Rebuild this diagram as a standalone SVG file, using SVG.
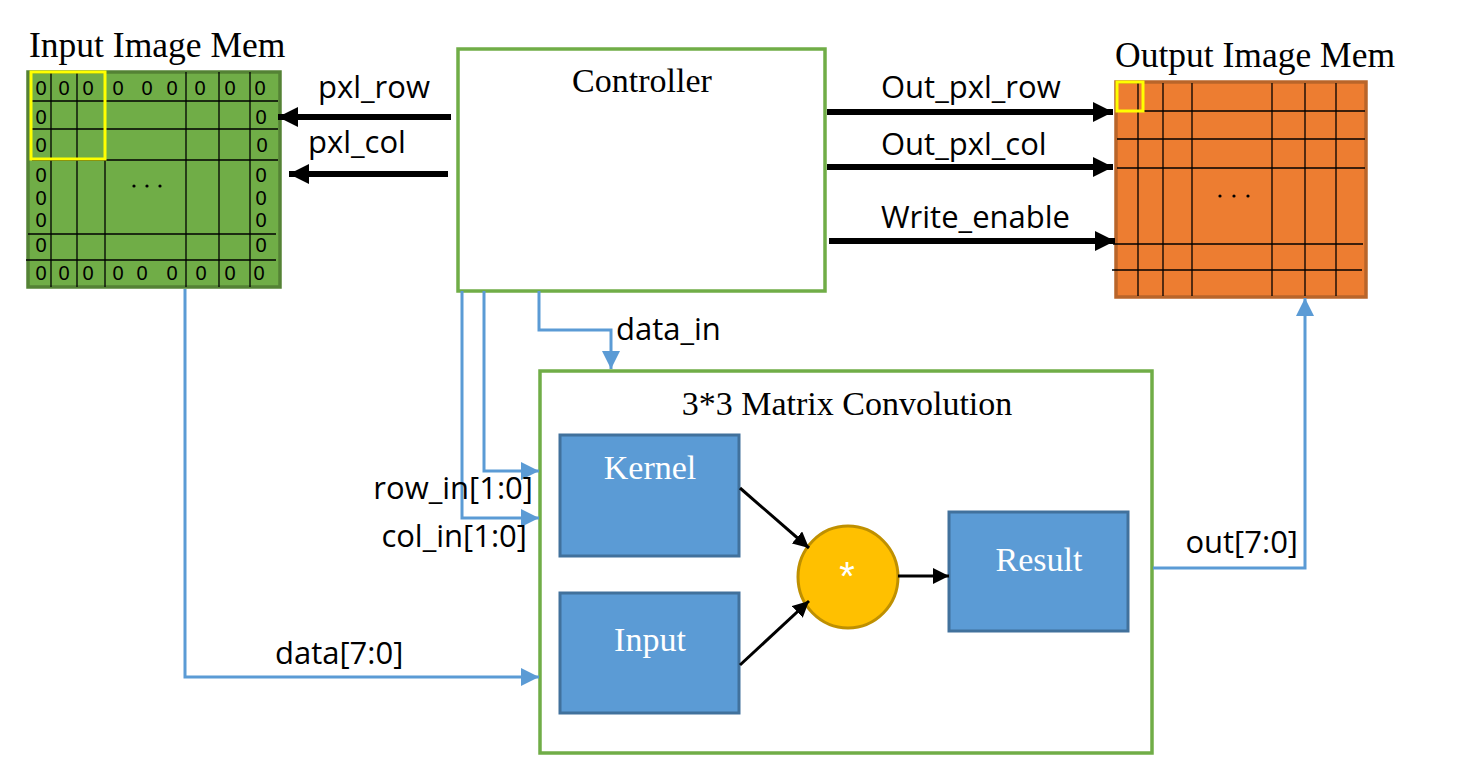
<svg xmlns="http://www.w3.org/2000/svg" width="1462" height="777" viewBox="0 0 1462 777">
<defs>
<style>
.serif{font-family:"Liberation Serif","Times New Roman",serif;}
.sans{font-family:"Open Sans","Liberation Sans",sans-serif;}
.title{font-size:34px;fill:#000;}
.mtitle{font-size:35.5px;fill:#000;}
.lbl{font-size:31px;fill:#000;}
.zero{font-family:"Liberation Sans",Arial,sans-serif;font-size:20px;fill:#000;text-anchor:middle;}
.grid{stroke:#000;stroke-width:1.3;fill:none;}
.blk{stroke:#000;stroke-width:6;fill:none;}
.thin{stroke:#000;stroke-width:3;fill:none;}
.blue{stroke:#5B9BD5;stroke-width:3;fill:none;}
.box{fill:#5B9BD5;stroke:#41719C;stroke-width:3;}
.wt{font-size:34px;fill:#fff;text-anchor:middle;}
</style>
<marker id="ah" viewBox="0 0 10 10" refX="10" refY="5" markerWidth="20" markerHeight="20" markerUnits="userSpaceOnUse" orient="auto"><path d="M0,0 L10,5 L0,10 z" fill="#000"/></marker>
<marker id="ahs" viewBox="0 0 10 10" refX="10" refY="5" markerWidth="16" markerHeight="16" markerUnits="userSpaceOnUse" orient="auto"><path d="M0,0 L10,5 L0,10 z" fill="#000"/></marker>
<marker id="ahb" viewBox="0 0 10 10" refX="10" refY="5" markerWidth="18" markerHeight="18" markerUnits="userSpaceOnUse" orient="auto"><path d="M0,0 L10,5 L0,10 z" fill="#5B9BD5"/></marker>
</defs>
<rect width="1462" height="777" fill="#fff"/>

<g id="input-mem">
<text class="serif mtitle" x="29" y="57">Input Image Mem</text>
<rect x="28" y="72" width="252" height="215" fill="#70AD47" stroke="#548235" stroke-width="3.5"/>
<g class="grid">
<line x1="51" y1="72" x2="51" y2="287"/>
<line x1="77" y1="72" x2="77" y2="287"/>
<line x1="105" y1="72" x2="105" y2="287"/>
<line x1="186" y1="72" x2="186" y2="287"/>
<line x1="219" y1="72" x2="219" y2="287"/>
<line x1="250" y1="72" x2="250" y2="287"/>
<line x1="32" y1="101" x2="278" y2="101"/>
<line x1="32" y1="129" x2="278" y2="129"/>
<line x1="32" y1="160" x2="278" y2="160"/>
<line x1="28" y1="234" x2="276" y2="234"/>
<line x1="26" y1="260" x2="276" y2="260"/>
</g>
<rect x="31" y="72" width="74" height="87" fill="none" stroke="#FFFF00" stroke-width="3"/>
<g class="zero">
<text x="41" y="95">0</text><text x="64" y="95">0</text><text x="88" y="95">0</text><text x="118" y="95">0</text><text x="147" y="95">0</text><text x="172" y="95">0</text><text x="200" y="95">0</text><text x="230" y="95">0</text><text x="260" y="95">0</text>
<text x="41" y="124">0</text><text x="41" y="152">0</text>
<text x="41" y="182">0</text><text x="41" y="204.5">0</text><text x="41" y="227">0</text>
<text x="41" y="252">0</text>
<text x="261" y="124">0</text><text x="262" y="152">0</text>
<text x="261" y="182">0</text><text x="261" y="204.5">0</text><text x="261" y="227">0</text>
<text x="261" y="252">0</text>
<text x="41" y="280">0</text><text x="64" y="280">0</text><text x="88" y="280">0</text><text x="118" y="280">0</text><text x="142" y="280">0</text><text x="172" y="280">0</text><text x="201" y="280">0</text><text x="230" y="280">0</text><text x="259" y="280">0</text>
</g>
<g fill="#000"><circle cx="134" cy="186" r="1.6"/><circle cx="147" cy="186" r="1.6"/><circle cx="160" cy="186" r="1.6"/></g>
</g>

<g id="output-mem">
<text class="serif mtitle" x="1115" y="67">Output Image Mem</text>
<rect x="1116" y="82" width="250" height="215" fill="#ED7D31" stroke="#B9652A" stroke-width="3.5"/>
<g class="grid">
<line x1="1138" y1="83" x2="1138" y2="296"/>
<line x1="1163" y1="83" x2="1163" y2="296"/>
<line x1="1192" y1="83" x2="1192" y2="296"/>
<line x1="1272" y1="83" x2="1272" y2="296"/>
<line x1="1305" y1="83" x2="1305" y2="296"/>
<line x1="1336" y1="83" x2="1336" y2="296"/>
<line x1="1142" y1="111" x2="1365" y2="111"/>
<line x1="1117" y1="139" x2="1365" y2="139"/>
<line x1="1117" y1="168" x2="1365" y2="168"/>
<line x1="1113" y1="244" x2="1363" y2="244"/>
<line x1="1112" y1="270" x2="1362" y2="270"/>
</g>
<rect x="1117" y="82" width="26" height="29" fill="none" stroke="#FFFF00" stroke-width="3"/>
<g fill="#000"><circle cx="1220" cy="196" r="1.6"/><circle cx="1234" cy="196" r="1.6"/><circle cx="1248" cy="196" r="1.6"/></g>
</g>

<g id="controller">
<rect x="458" y="49" width="367" height="242" fill="#fff" stroke="#70AD47" stroke-width="3.5"/>
<text class="serif title" x="642" y="92" text-anchor="middle">Controller</text>
</g>

<g id="conv">
<rect x="540" y="371" width="612" height="382" fill="#fff" stroke="#70AD47" stroke-width="3.5"/>
<text class="serif title" x="847" y="415" text-anchor="middle">3*3 Matrix Convolution</text>
</g>
<g id="kernel">
<rect class="box" x="560" y="435" width="179" height="121"/>
<text class="serif wt" x="650" y="479">Kernel</text>
</g>
<g id="input">
<rect class="box" x="560" y="593" width="179" height="120"/>
<text class="serif wt" x="650" y="651">Input</text>
</g>
<g id="mult">
<ellipse cx="848" cy="577" rx="50" ry="51" fill="#FFC000" stroke="#BF9000" stroke-width="3"/>
<text x="847" y="590" text-anchor="middle" font-family="Liberation Sans, sans-serif" font-size="40" fill="#fff">*</text>
</g>
<g id="result">
<rect class="box" x="949" y="512" width="179" height="119"/>
<text class="serif wt" x="1039" y="571">Result</text>
</g>

<g id="connectors">
<line class="blk" x1="451" y1="117" x2="278" y2="117" marker-end="url(#ah)"/>
<line class="blk" x1="448" y1="174" x2="289" y2="174" marker-end="url(#ah)"/>
<line class="blk" x1="827" y1="112" x2="1113" y2="112" marker-end="url(#ah)"/>
<line class="blk" x1="827" y1="167" x2="1113" y2="167" marker-end="url(#ah)"/>
<line class="blk" x1="829" y1="241" x2="1115" y2="241" marker-end="url(#ah)"/>

<polyline class="blue" points="462,291 462,518 539,518" marker-end="url(#ahb)"/>
<polyline class="blue" points="484,291 484,471 539,471" marker-end="url(#ahb)"/>
<polyline class="blue" points="539,291 539,330 611,330 611,369" marker-end="url(#ahb)"/>
<polyline class="blue" points="185,289 185,677 539,677" marker-end="url(#ahb)"/>
<polyline class="blue" points="1153,568 1305,568 1305,298" marker-end="url(#ahb)"/>

<line class="thin" x1="740" y1="488" x2="809" y2="548" marker-end="url(#ahs)"/>
<line class="thin" x1="740" y1="665" x2="809" y2="601" marker-end="url(#ahs)"/>
<line class="thin" x1="898" y1="576" x2="949" y2="576" marker-end="url(#ahs)"/>
</g>

<g id="labels" class="sans lbl">
<text x="318" y="98">pxl_row</text>
<text x="308" y="153">pxl_col</text>
<text x="881" y="98">Out_pxl_row</text>
<text x="881" y="155">Out_pxl_col</text>
<text x="881" y="228">Write_enable</text>
<text x="616" y="340">data_in</text>
<text x="533" y="499" text-anchor="end">row_in[1:0]</text>
<text x="527" y="547" text-anchor="end">col_in[1:0]</text>
<text x="275" y="664">data[7:0]</text>
<text x="1298" y="553" text-anchor="end">out[7:0]</text>
</g>
</svg>
